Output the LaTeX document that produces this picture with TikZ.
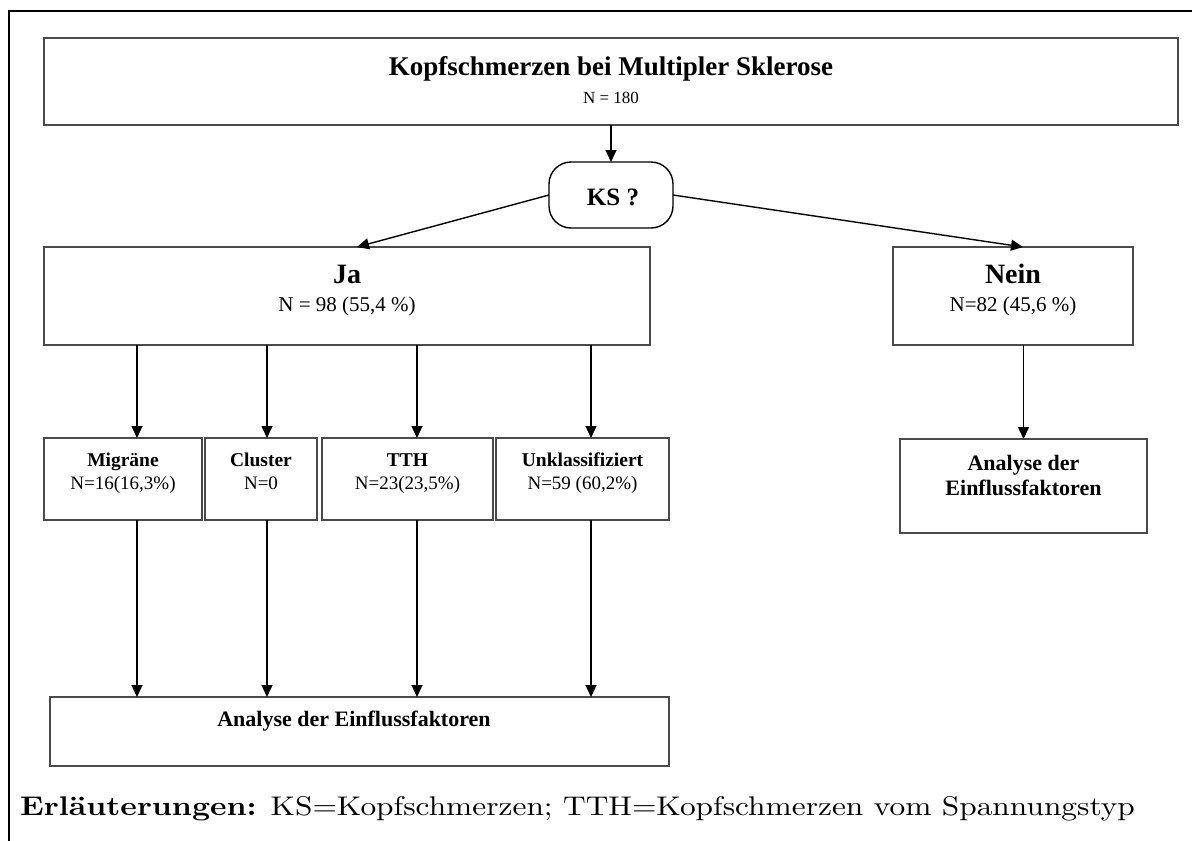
\documentclass[tikz,border=0pt]{standalone}
\usepackage{fontspec}
\newfontfamily\cam{Liberation Serif}
\usetikzlibrary{arrows.meta}
\definecolor{boxgray}{HTML}{4A4A4A}
\begin{document}
\begin{tikzpicture}[x=1pt,y=-1pt,
  box/.style={draw=boxgray, line width=1.8pt, inner sep=0pt, outer sep=0pt},
  arr/.style={draw=black, line width=1.4pt, -{Triangle[length=12pt,width=11pt]}},
  txt/.style={anchor=base, inner sep=0pt, text=black},
  hbig/.style={txt, font=\cam\bfseries\fontsize{28}{30}\selectfont},
  nline/.style={txt, font=\cam\fontsize{21}{24}\selectfont},
  stitle/.style={txt, font=\cam\bfseries\fontsize{19.5}{22}\selectfont},
  sval/.style={txt, font=\cam\fontsize{19}{22}\selectfont},
  antxt/.style={txt, font=\cam\bfseries\fontsize{22}{24}\selectfont}]
\useasboundingbox (0,0) rectangle (1192,841);
% frame
\draw[line width=2.6pt] (9,841) -- (9,11) -- (1192,11);
% boxes
\node[box, minimum width=1134pt, minimum height=87pt] (top) at (611,81.5) {};
\node[box, draw=black, line width=1.4pt, rounded corners=22pt, minimum width=124pt, minimum height=66pt] (ks) at (611,195) {};
\node[box, minimum width=606pt, minimum height=98pt] (ja) at (347,296) {};
\node[box, minimum width=240pt, minimum height=98pt] (nein) at (1013,296) {};
\node[box, minimum width=158pt, minimum height=82pt] (mig) at (123,479) {};
\node[box, minimum width=112pt, minimum height=82pt] (clu) at (261,479) {};
\node[box, minimum width=171pt, minimum height=82pt] (tth) at (407.5,479) {};
\node[box, minimum width=173pt, minimum height=82pt] (unk) at (582.5,479) {};
\node[box, minimum width=619pt, minimum height=69pt] (ana) at (359.5,731.5) {};
\node[box, minimum width=247pt, minimum height=94pt] (ana2) at (1023.5,486) {};
% texts
\node[txt, font=\cam\bfseries\fontsize{27}{30}\selectfont] (t1) at (611,75) {Kopfschmerzen bei Multipler Sklerose};
\node[txt, font=\cam\fontsize{17}{20}\selectfont] (t2) at (611,103) {N = 180};
\node[txt, font=\cam\bfseries\fontsize{25}{28}\selectfont] (kst) at (613,205) {KS ?};
\node[hbig] (jat) at (347,283) {Ja};
\node[nline] (jan) at (347,311) {N = 98 (55,4 \%)};
\node[hbig] (neint) at (1013,283) {Nein};
\node[nline] (neinn) at (1013,311) {N=82 (45,6 \%)};
\node[stitle] (migt) at (123,466) {Migräne};
\node[sval] (mign) at (123,489) {N=16(16,3\%)};
\node[stitle] (clut) at (261,466) {Cluster};
\node[sval] (clun) at (261,489) {N=0};
\node[stitle] (ttht) at (407.5,466) {TTH};
\node[sval] (tthn) at (407.5,489) {N=23(23,5\%)};
\node[stitle] (unkt) at (582.5,466) {Unklassifiziert};
\node[sval] (unkn) at (582.5,489) {N=59 (60,2\%)};
\node[antxt] (ana2a) at (1023.5,470) {Analyse der};
\node[antxt] (ana2b) at (1023.5,495) {Einflussfaktoren};
\node[antxt] (anat) at (354,726) {Analyse der Einflussfaktoren};
\node[anchor=base west, inner sep=0pt] (foot) at (20,815) {\scalebox{3.14}[2.7]{\fontsize{10}{12}\selectfont\textbf{Erläuterungen:} KS=Kopfschmerzen; TTH=Kopfschmerzen vom Spannungstyp}};
% connector coordinates
\coordinate (c1) at (137,0);
\coordinate (c2) at (267,0);
\coordinate (c3) at (417,0);
\coordinate (c4) at (591,0);
\coordinate (jain) at (357,247);
\coordinate (neinin) at (1023,247);
% connectors
\draw[arr] (top.south) -- (ks.north);
\draw[arr] (ks.west) -- (jain);
\draw[arr] (ks.east) -- (neinin);
\draw[arr] (ja.south -| c1) -- (mig.north -| c1);
\draw[arr] (ja.south -| c2) -- (clu.north -| c2);
\draw[arr] (ja.south -| c3) -- (tth.north -| c3);
\draw[arr] (ja.south -| c4) -- (unk.north -| c4);
\draw[arr] (mig.south -| c1) -- (ana.north -| c1);
\draw[arr] (clu.south -| c2) -- (ana.north -| c2);
\draw[arr] (tth.south -| c3) -- (ana.north -| c3);
\draw[arr] (unk.south -| c4) -- (ana.north -| c4);
\draw[arr] (ana2.north |- nein.south) -- (ana2.north);
\end{tikzpicture}
\end{document}
